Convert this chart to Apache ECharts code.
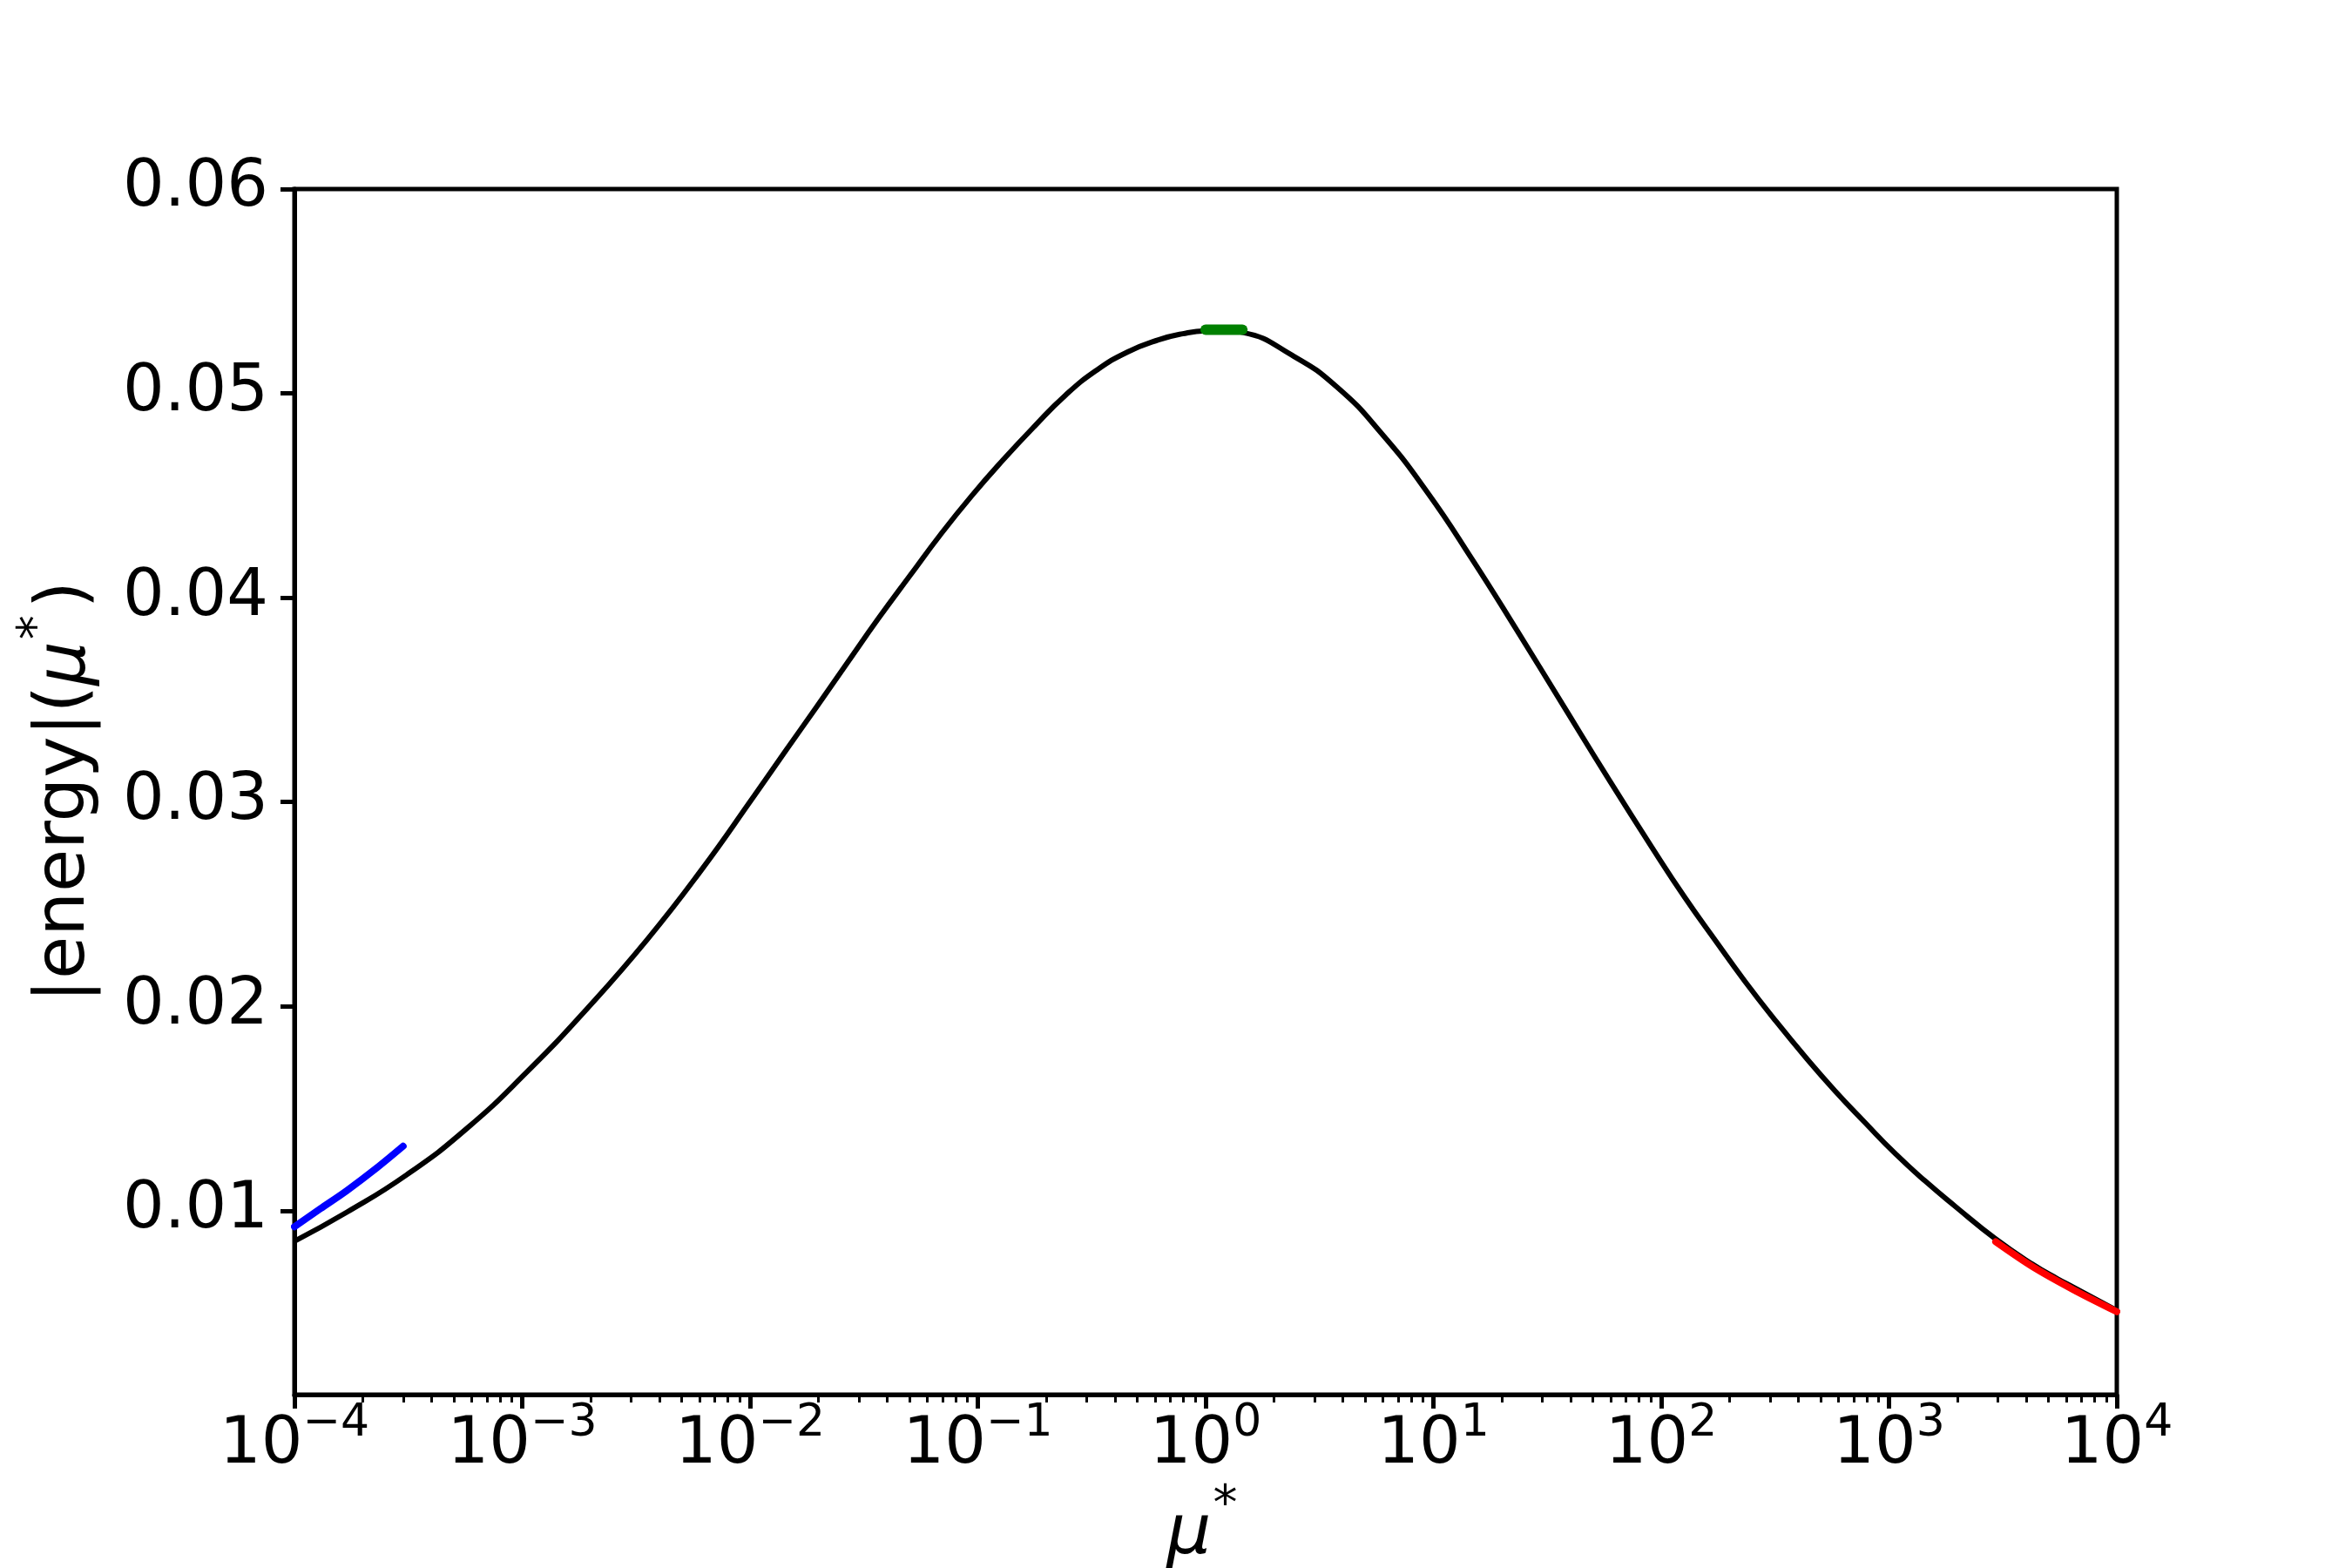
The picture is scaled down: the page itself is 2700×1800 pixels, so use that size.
<!DOCTYPE html>
<html><head><meta charset="utf-8">
<script src="https://cdn.jsdelivr.net/npm/echarts@6/dist/echarts.min.js"></script>
<style>html,body{margin:0;padding:0;background:#fff}#c{width:2700px;height:1800px}</style>
</head><body><div id="c"></div>
<script>
// ---- data ----
const muBlack = [1e-4, 1.70e-4, 3.12e-4, 5.73e-4, 1.05e-3, 1.93e-3, 3.53e-3, 6.12e-3, 1.045e-2, 1.43e-2, 1.96e-2, 2.68e-2, 3.67e-2, 5.02e-2, 6.89e-2, 9.42e-2, 0.129, 0.177, 0.242, 0.331, 0.453, 0.621, 0.794, 1.0, 1.20, 1.455, 2.40, 3.78, 5.96, 9.38, 14.8, 23.3, 36.7, 57.9, 91.2, 127, 173, 233, 316, 429, 579, 785, 1064, 1442, 1950, 2938, 4266, 5470, 6442, 1e4];
const energyBlack = [0.00851, 0.00993, 0.01177, 0.01404, 0.01680, 0.01990, 0.02326, 0.02668, 0.03032, 0.03249, 0.03466, 0.03683, 0.03900, 0.04106, 0.04312, 0.04500, 0.04674, 0.04838, 0.04990, 0.05112, 0.05202, 0.05262, 0.05292, 0.05306, 0.05307, 0.05298, 0.05186, 0.05030, 0.04800, 0.04518, 0.04188, 0.03839, 0.03482, 0.03124, 0.02777, 0.02533, 0.02322, 0.02123, 0.01933, 0.01753, 0.01587, 0.01431, 0.01280, 0.01145, 0.01022, 0.00862, 0.00738, 0.00668, 0.00626, 0.00512];
const muBlue = [1e-4, 1.3e-4, 1.7e-4, 2.3e-4, 3.0e-4];
const energyBlue = [0.00922, 0.01010, 0.01099, 0.01210, 0.01316];
const muGreen = [1.0, 1.45];
const energyGreen = [0.05312, 0.05312];
const muRed = [2940, 4270, 6440, 1e4];
const energyRed = [0.00848, 0.00726, 0.00614, 0.00506];

const xMin = 1e-4, xMax = 1e4;
const xMajorTicks = [1e-4, 1e-3, 1e-2, 1e-1, 1e0, 1e1, 1e2, 1e3, 1e4];
const xMinorMultipliers = [2, 3, 4, 5, 6, 7, 8, 9];
const yMin = 0.001, yMax = 0.06;
const yTicks = [0.01, 0.02, 0.03, 0.04, 0.05, 0.06];

const FONT = 'DejaVu Sans';
const TICK_FS = 75, NAME_FS = 80;
const pairs = (xs, ys) => xs.map((x, i) => [x, ys[i]]);

const minorTickLogs = [];
xMajorTicks.slice(0, -1).forEach(d => xMinorMultipliers.forEach(m => minorTickLogs.push(Math.log10(d * m))));

const chart = echarts.init(document.getElementById('c'), null, {renderer: 'canvas'});
const supRich = {
  b: {fontSize: TICK_FS, fontFamily: FONT, color: '#000', lineHeight: 77, verticalAlign: 'bottom'},
  s: {fontSize: 52, fontFamily: FONT, color: '#000', lineHeight: 54, padding: [0, 0, 37, 0], verticalAlign: 'bottom'}
};
const nameRich = {
  t: {fontSize: NAME_FS, fontFamily: FONT, color: '#000', lineHeight: 82, verticalAlign: 'bottom'},
  m: {fontSize: NAME_FS, fontFamily: FONT, fontStyle: 'italic', color: '#000', lineHeight: 82, verticalAlign: 'bottom'},
  p: {fontSize: 56, fontFamily: FONT, color: '#000', lineHeight: 58, padding: [0, 8, 44, 2], verticalAlign: 'bottom'}
};

chart.setOption({
  backgroundColor: '#fff',
  animation: false,
  grid: {left: 338, right: 270, top: 217, bottom: 199, show: true, borderColor: '#000', borderWidth: 5, backgroundColor: 'transparent', outerBoundsMode: 'none'},
  xAxis: [{
    type: 'log', logBase: 10, min: xMin, max: xMax, interval: 1,
    position: 'bottom',
    name: '{m|\u03bc}{p|*}', nameLocation: 'middle', nameGap: 118,
    nameTextStyle: {rich: nameRich},
    axisLine: {show: true, onZero: false, lineStyle: {color: '#000', width: 5}},
    axisTick: {show: true, inside: false, length: 16, lineStyle: {color: '#000', width: 5}},
    axisLabel: {
      margin: 19,
      formatter: v => { const e = Math.round(Math.log10(v)); return '{b|10}{s|' + (e < 0 ? '\u2212' : '') + Math.abs(e) + '}'; },
      rich: supRich
    },
    splitLine: {show: false}, minorTick: {show: false}
  }, {
    type: 'value', min: Math.log10(xMin), max: Math.log10(xMax),
    position: 'bottom', gridIndex: 0,
    axisLine: {show: false, onZero: false},
    axisTick: {show: true, inside: false, length: 9, customValues: minorTickLogs, lineStyle: {color: '#000', width: 3}},
    axisLabel: {show: false},
    splitLine: {show: false}
  }],
  yAxis: [{
    type: 'value', min: yMin, max: yMax,
    name: '|energy|({m|\u03bc}{p|*}{t|)}', nameLocation: 'middle', nameGap: 222, nameRotate: 90,
    nameTextStyle: {fontSize: NAME_FS, fontFamily: FONT, color: '#000', rich: nameRich},
    axisLine: {show: true, onZero: false, lineStyle: {color: '#000', width: 5}},
    axisTick: {show: true, inside: false, length: 16, customValues: yTicks, lineStyle: {color: '#000', width: 5}},
    axisLabel: {margin: 30, customValues: yTicks, fontSize: TICK_FS, fontFamily: FONT, color: '#000', formatter: v => v.toFixed(2)},
    splitLine: {show: false}
  }],
  series: [
    {type: 'line', name: 'energy', data: pairs(muBlack, energyBlack), showSymbol: false, smooth: 0.5, lineStyle: {color: '#000', width: 6}, z: 2},
    {type: 'line', name: 'small', data: pairs(muBlue, energyBlue), showSymbol: false, smooth: 0.3, lineStyle: {color: '#0000ff', width: 8, cap: 'round'}, z: 3},
    {type: 'line', name: 'peak', data: pairs(muGreen, energyGreen), showSymbol: false, lineStyle: {color: '#008000', width: 12, cap: 'round'}, z: 3},
    {type: 'line', name: 'large', data: pairs(muRed, energyRed), showSymbol: false, smooth: 0.3, lineStyle: {color: '#ff0000', width: 8, cap: 'round'}, z: 3}
  ]
});
</script></body></html>
